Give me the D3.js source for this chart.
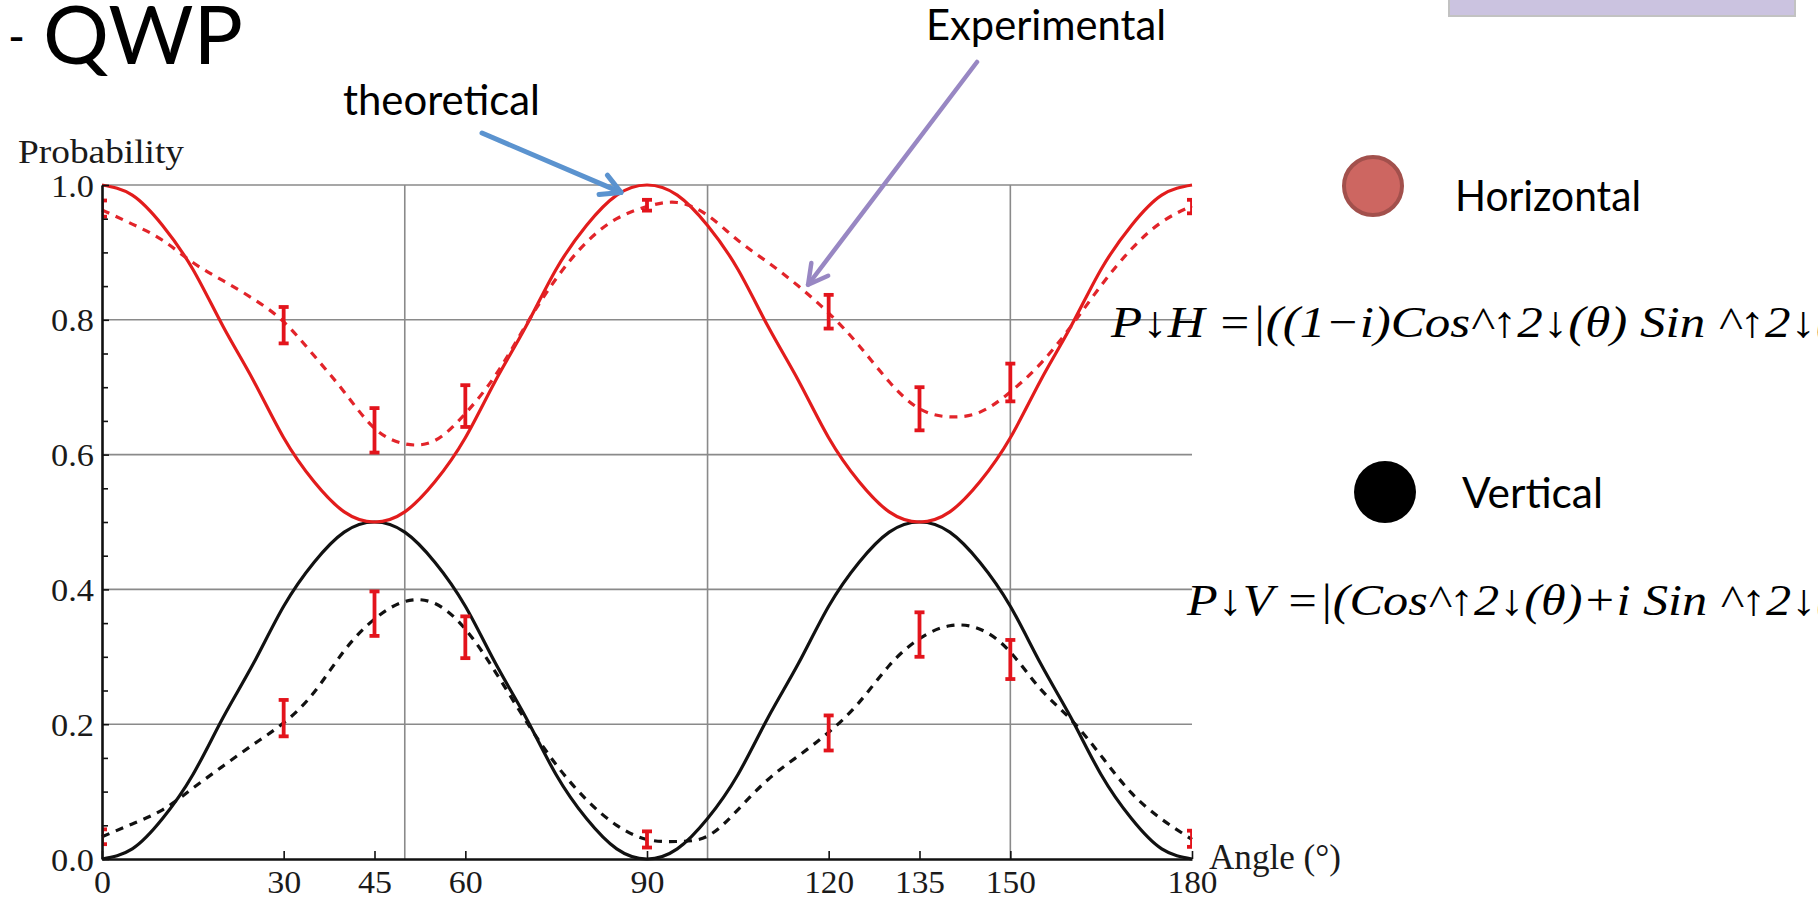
<!DOCTYPE html>
<html>
<head>
<meta charset="utf-8">
<script src="https://cdn.jsdelivr.net/npm/d3@7"></script>
<style>
  body { margin: 0; background: #fff; }
  svg { display: block; }
</style>
</head>
<body>
<div id="chart"></div>
<script>
const sampleAngles = [0, 5, 10, 15, 20, 25, 30, 35, 40, 45, 50, 55, 60, 65, 70, 75, 80, 85, 90,
  95, 100, 105, 110, 115, 120, 125, 130, 135, 140, 145, 150, 155, 160, 165, 170, 175, 180];

// theoretical (solid) curves
const theoryH = [1, 0.985, 0.94, 0.875, 0.79, 0.71, 0.625, 0.56, 0.515, 0.5, 0.515, 0.56, 0.625, 0.71, 0.79, 0.875, 0.94, 0.985, 1,
  0.985, 0.94, 0.875, 0.79, 0.71, 0.625, 0.56, 0.515, 0.5, 0.515, 0.56, 0.625, 0.71, 0.79, 0.875, 0.94, 0.985, 1];
const theoryV = [0, 0.015, 0.06, 0.125, 0.21, 0.29, 0.375, 0.44, 0.485, 0.5, 0.485, 0.44, 0.375, 0.29, 0.21, 0.125, 0.06, 0.015, 0,
  0.015, 0.06, 0.125, 0.21, 0.29, 0.375, 0.44, 0.485, 0.5, 0.485, 0.44, 0.375, 0.29, 0.21, 0.125, 0.06, 0.015, 0];

// experimental fits (dashed)
const fitH = [0.963, 0.942, 0.918, 0.885, 0.858, 0.831, 0.797, 0.747, 0.693, 0.639, 0.616, 0.621, 0.661, 0.718, 0.792, 0.861, 0.915, 0.95, 0.968,
  0.974, 0.955, 0.918, 0.885, 0.85, 0.81, 0.762, 0.708, 0.668, 0.656, 0.663, 0.693, 0.735, 0.79, 0.851, 0.905, 0.945, 0.969];
const fitV = [0.033, 0.052, 0.073, 0.105, 0.138, 0.17, 0.202, 0.247, 0.309, 0.356, 0.382, 0.379, 0.341, 0.277, 0.205, 0.14, 0.088, 0.05, 0.029,
  0.026, 0.034, 0.073, 0.118, 0.153, 0.188, 0.232, 0.287, 0.327, 0.346, 0.341, 0.307, 0.252, 0.207, 0.153, 0.098, 0.059, 0.029];

// measured points with error
const measAngles = [0, 30, 45, 60, 90, 120, 135, 150, 180];
const measH = [0.965, 0.792, 0.636, 0.672, 0.97, 0.812, 0.668, 0.707, 0.968];
const errH  = [0.012, 0.027, 0.033, 0.031, 0.008, 0.025, 0.032, 0.028, 0.01];
const measV = [0.033, 0.209, 0.364, 0.329, 0.029, 0.187, 0.333, 0.296, 0.03];
const errV  = [0.011, 0.027, 0.033, 0.031, 0.012, 0.026, 0.033, 0.029, 0.012];

const xTicks = [0, 30, 45, 60, 90, 120, 135, 150, 180];
const yTicks = [0, 0.2, 0.4, 0.6, 0.8, 1.0];
const yMinor = [0.05, 0.1, 0.15, 0.25, 0.3, 0.35, 0.45, 0.5, 0.55, 0.65, 0.7, 0.75, 0.85, 0.9, 0.95];
const xGrid = [50, 100, 150];
const yGrid = [0.2, 0.4, 0.6, 0.8, 1.0];

const W = 1818, H = 901;
const margin = {left: 102, top: 185, right: 626, bottom: 42};

const svg = d3.select("#chart").append("svg")
  .attr("width", W)
  .attr("height", H);

svg.append("rect").attr("width", W).attr("height", H).attr("fill", "#fff");

const x = d3.scaleLinear().domain([0, 180]).range([margin.left, W - margin.right]);
const y = d3.scaleLinear().domain([0, 1]).range([H - margin.bottom, margin.top]);

const serif = "'Liberation Serif', 'Times New Roman', serif";
const sans = "Lato, 'Open Sans', sans-serif";

// grid
const grid = svg.append("g").attr("stroke", "#8a8a8a").attr("stroke-width", 1.6);
grid.selectAll("line.h").data(yGrid).enter().append("line")
  .attr("x1", x(0)).attr("x2", x(180))
  .attr("y1", d => y(d)).attr("y2", d => y(d));
grid.selectAll("line.v").data(xGrid).enter().append("line")
  .attr("x1", d => x(d)).attr("x2", d => x(d))
  .attr("y1", y(0)).attr("y2", y(1));

// curves
const line = d3.line()
  .x((d, i) => x(sampleAngles[i]))
  .y(d => y(d))
  .curve(d3.curveNatural);

const curves = [
  {vals: theoryV, color: "#111", dash: null},
  {vals: theoryH, color: "#e21c1c", dash: null},
  {vals: fitV, color: "#111", dash: "8,7"},
  {vals: fitH, color: "#e2242a", dash: "8,7"}
];
svg.append("g").selectAll("path").data(curves).enter().append("path")
  .attr("d", d => line(d.vals))
  .attr("fill", "none")
  .attr("stroke", d => d.color)
  .attr("stroke-width", 3.2)
  .attr("stroke-dasharray", d => d.dash);

// error bars
svg.append("clipPath").attr("id", "plotclip").append("rect")
  .attr("x", x(0)).attr("y", 0).attr("width", x(180) - x(0)).attr("height", H);

const bars = [];
measAngles.forEach((a, i) => {
  bars.push({a: a, v: measH[i], e: errH[i]});
  bars.push({a: a, v: measV[i], e: errV[i]});
});
const eb = svg.append("g").attr("clip-path", "url(#plotclip)")
  .attr("stroke", "#e3141c").attr("stroke-width", 3.8);
const barG = eb.selectAll("g").data(bars).enter().append("g");
barG.append("line")
  .attr("x1", d => x(d.a)).attr("x2", d => x(d.a))
  .attr("y1", d => y(d.v - d.e)).attr("y2", d => y(d.v + d.e));
barG.append("line")
  .attr("x1", d => x(d.a) - 5).attr("x2", d => x(d.a) + 5)
  .attr("y1", d => y(d.v + d.e)).attr("y2", d => y(d.v + d.e));
barG.append("line")
  .attr("x1", d => x(d.a) - 5).attr("x2", d => x(d.a) + 5)
  .attr("y1", d => y(d.v - d.e)).attr("y2", d => y(d.v - d.e));

// axes
const xAxis = d3.axisBottom(x).tickValues(xTicks).tickFormat(d3.format("d"))
  .tickSizeInner(-8).tickSizeOuter(0).tickPadding(12);
const gx = svg.append("g").attr("transform", "translate(0," + y(0) + ")").call(xAxis);

const yAxis = d3.axisLeft(y).tickValues(yTicks).tickFormat(d3.format(".1f"))
  .tickSizeInner(-7).tickSizeOuter(0).tickPadding(8);
const gy = svg.append("g").attr("transform", "translate(" + x(0) + ",0)").call(yAxis);

const yMinorAxis = d3.axisLeft(y).tickValues(yMinor).tickFormat("")
  .tickSizeInner(-6).tickSizeOuter(0);
svg.append("g").attr("transform", "translate(" + x(0) + ",0)").call(yMinorAxis)
  .select(".domain").remove();

[gx, gy].forEach(g => {
  g.select(".domain").attr("stroke", "#111").attr("stroke-width", 2.6);
  g.selectAll(".tick text").attr("fill", "#1a1a1a")
    .style("font-family", serif).style("font-size", "31px");
});
svg.selectAll(".tick line").attr("stroke", "#111").attr("stroke-width", 1.6);
gx.selectAll(".tick text").attr("textLength", d => d >= 100 ? 50 : (d >= 10 ? 34 : 17))
  .attr("lengthAdjust", "spacingAndGlyphs");
gy.selectAll(".tick text").attr("textLength", 43).attr("lengthAdjust", "spacingAndGlyphs")
  .attr("dy", "0.36em");

// axis labels
svg.append("text").attr("x", 18).attr("y", 163)
  .attr("textLength", 166).attr("lengthAdjust", "spacingAndGlyphs")
  .style("font-family", serif).style("font-size", "34px").attr("fill", "#1a1a1a")
  .text("Probability");
svg.append("text").attr("x", x(180) + 17).attr("y", y(0) + 10)
  .attr("textLength", 132).attr("lengthAdjust", "spacingAndGlyphs")
  .style("font-family", serif).style("font-size", "35px").attr("fill", "#1a1a1a")
  .text("Angle (°)");

// title fragment
svg.append("text").attr("x", 8).attr("y", 54)
  .attr("textLength", 17).attr("lengthAdjust", "spacingAndGlyphs")
  .style("font-family", sans).style("font-size", "50px").text("-");
svg.append("text").attr("x", 43).attr("y", 64)
  .attr("textLength", 200).attr("lengthAdjust", "spacingAndGlyphs")
  .style("font-family", sans).style("font-size", "82px").text("QWP");

// lavender box at top right
svg.append("rect").attr("x", 1449).attr("y", -4).attr("width", 346).attr("height", 20)
  .attr("fill", "#cbc3e0").attr("stroke", "#c2c2c2").attr("stroke-width", 2);

// annotations
function arrow(x0, y0, x1, y1, color, w) {
  const ang = Math.atan2(y1 - y0, x1 - x0);
  const hl = 22, spread = 0.5;
  const g = svg.append("g").attr("stroke", color).attr("stroke-width", w)
    .attr("fill", "none").attr("stroke-linecap", "round").attr("stroke-linejoin", "round");
  g.append("line").attr("x1", x0).attr("y1", y0).attr("x2", x1).attr("y2", y1);
  g.append("path").attr("d",
    "M" + (x1 - hl * Math.cos(ang - spread)) + "," + (y1 - hl * Math.sin(ang - spread)) +
    "L" + x1 + "," + y1 +
    "L" + (x1 - hl * Math.cos(ang + spread)) + "," + (y1 - hl * Math.sin(ang + spread)));
}
svg.append("text").attr("x", 343).attr("y", 115)
  .attr("textLength", 197).attr("lengthAdjust", "spacingAndGlyphs")
  .style("font-family", sans).style("font-size", "42px").text("theoretical");
arrow(482, 133, x(85.7), y(0.989), "#5b93cf", 5);

svg.append("text").attr("x", 926).attr("y", 40)
  .attr("textLength", 240).attr("lengthAdjust", "spacingAndGlyphs")
  .style("font-family", sans).style("font-size", "42px").text("Experimental");
arrow(977, 62, x(116.6), y(0.852), "#9887c3", 4.5);

// legend
svg.append("ellipse").attr("cx", 1373).attr("cy", 186).attr("rx", 29).attr("ry", 29)
  .attr("fill", "#cd6661").attr("stroke", "#a2504c").attr("stroke-width", 4);
svg.append("text").attr("x", 1455).attr("y", 211)
  .attr("textLength", 186).attr("lengthAdjust", "spacingAndGlyphs")
  .style("font-family", sans).style("font-size", "42px").text("Horizontal");
svg.append("ellipse").attr("cx", 1385).attr("cy", 492).attr("rx", 31).attr("ry", 31)
  .attr("fill", "#000");
svg.append("text").attr("x", 1462).attr("y", 508)
  .attr("textLength", 141).attr("lengthAdjust", "spacingAndGlyphs")
  .style("font-family", sans).style("font-size", "42px").text("Vertical");

// formulas (run past the page edge, as in the slide)
svg.append("text").attr("x", 1111).attr("y", 337)
  .attr("textLength", 722).attr("lengthAdjust", "spacingAndGlyphs")
  .style("font-family", serif).style("font-style", "italic").style("font-size", "44px")
  .text("P↓H =|((1−i)Cos^↑2↓(θ) Sin ^↑2↓(");
svg.append("text").attr("x", 1187).attr("y", 615)
  .attr("textLength", 646).attr("lengthAdjust", "spacingAndGlyphs")
  .style("font-family", serif).style("font-style", "italic").style("font-size", "44px")
  .text("P↓V =|(Cos^↑2↓(θ)+i Sin ^↑2↓(");
</script>
</body>
</html>
